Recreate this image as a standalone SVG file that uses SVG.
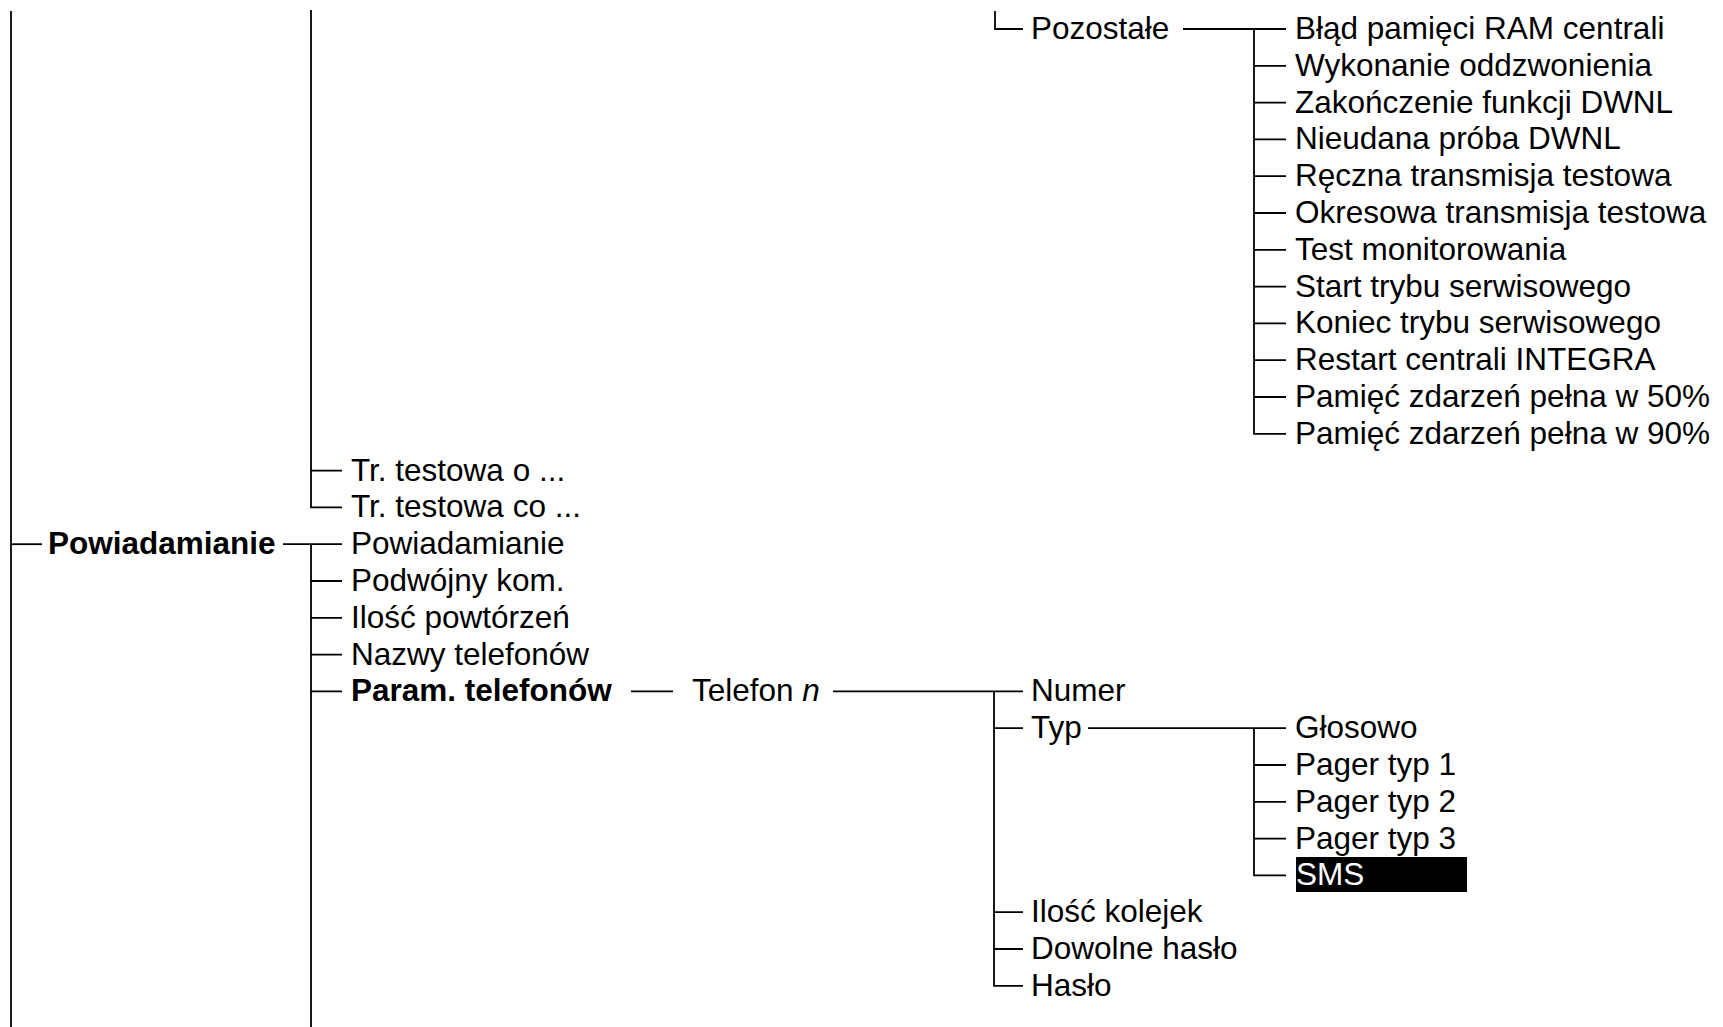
<svg xmlns="http://www.w3.org/2000/svg" width="1723" height="1027" viewBox="0 0 1723 1027">
<style>
.t{font-family:"Liberation Sans",Arial,sans-serif;font-size:31.5px;fill:#000}
.b{font-weight:bold}
.w{fill:#fff}
.c{fill:none;stroke:#000;stroke-width:1.8}
</style>
<rect width="1723" height="1027" fill="#fff"/>
<g id="connectors" class="c">
<path d="M11,11V1027"/>
<path d="M11,544.2H42"/>
<path d="M311,10V507.4H342M311,470.6H342"/>
<path d="M283,544.2H342M311,544.2V1027M311,581H342M311,617.8H342M311,654.6H342M311,691.4H342"/>
<path d="M631,691.4H673"/>
<path d="M833,691.4H1023M994,691.4V985.8H1023M994,728.2H1023M994,912.2H1023M994,949H1023"/>
<path d="M1088,728.2H1286M1254,728.2V875.4H1286M1254,765H1286M1254,801.8H1286M1254,838.6H1286"/>
<path d="M995,11V29H1023"/>
<path d="M1183,29H1286M1254,29V433.8H1286M1254,65.8H1286M1254,102.6H1286M1254,139.4H1286M1254,176.2H1286M1254,213H1286M1254,249.8H1286M1254,286.6H1286M1254,323.4H1286M1254,360.2H1286M1254,397H1286"/>
</g>
<g id="n-pozostale"><text class="t" x="1031" y="39">Pozostałe</text></g>
<g id="n-blad"><text class="t" x="1295" y="39">Błąd pamięci RAM centrali</text></g>
<g id="n-wykonanie"><text class="t" x="1295" y="75.8">Wykonanie oddzwonienia</text></g>
<g id="n-zakonczenie"><text class="t" x="1295" y="112.6">Zakończenie funkcji DWNL</text></g>
<g id="n-nieudana"><text class="t" x="1295" y="149.4">Nieudana próba DWNL</text></g>
<g id="n-reczna"><text class="t" x="1295" y="186.2">Ręczna transmisja testowa</text></g>
<g id="n-okresowa"><text class="t" x="1295" y="223">Okresowa transmisja testowa</text></g>
<g id="n-test"><text class="t" x="1295" y="259.8">Test monitorowania</text></g>
<g id="n-start"><text class="t" x="1295" y="296.6">Start trybu serwisowego</text></g>
<g id="n-koniec"><text class="t" x="1295" y="333.4">Koniec trybu serwisowego</text></g>
<g id="n-restart"><text class="t" x="1295" y="370.2">Restart centrali INTEGRA</text></g>
<g id="n-p50"><text class="t" x="1295" y="407">Pamięć zdarzeń pełna w 50%</text></g>
<g id="n-p90"><text class="t" x="1295" y="443.8">Pamięć zdarzeń pełna w 90%</text></g>
<g id="n-tro"><text class="t" x="351" y="480.6">Tr. testowa o ...</text></g>
<g id="n-trco"><text class="t" x="351" y="517.4">Tr. testowa co ...</text></g>
<g id="n-powiadamianie-main"><text class="t b" x="48" y="554.2">Powiadamianie</text></g>
<g id="n-powiadamianie"><text class="t" x="351" y="554.2">Powiadamianie</text></g>
<g id="n-podwojny"><text class="t" x="351" y="591">Podwójny kom.</text></g>
<g id="n-ilosc-powt"><text class="t" x="351" y="627.8">Ilość powtórzeń</text></g>
<g id="n-nazwy"><text class="t" x="351" y="664.6">Nazwy telefonów</text></g>
<g id="n-param"><text class="t b" x="351" y="701.4">Param. telefonów</text></g>
<g id="n-telefon"><text class="t" x="692" y="701.4">Telefon <tspan font-style="italic">n</tspan></text></g>
<g id="n-numer"><text class="t" x="1031" y="701.4">Numer</text></g>
<g id="n-typ"><text class="t" x="1031" y="738.2">Typ</text></g>
<g id="n-glosowo"><text class="t" x="1295" y="738.2">Głosowo</text></g>
<g id="n-pager1"><text class="t" x="1295" y="775">Pager typ 1</text></g>
<g id="n-pager2"><text class="t" x="1295" y="811.8">Pager typ 2</text></g>
<g id="n-pager3"><text class="t" x="1295" y="848.6">Pager typ 3</text></g>
<g id="n-sms"><rect x="1296" y="857" width="171" height="35" fill="#000"/><text class="t w" x="1296" y="885.4">SMS</text></g>
<g id="n-ilosc-kolejek"><text class="t" x="1031" y="922.2">Ilość kolejek</text></g>
<g id="n-dowolne"><text class="t" x="1031" y="959">Dowolne hasło</text></g>
<g id="n-haslo"><text class="t" x="1031" y="995.8">Hasło</text></g>
</svg>
